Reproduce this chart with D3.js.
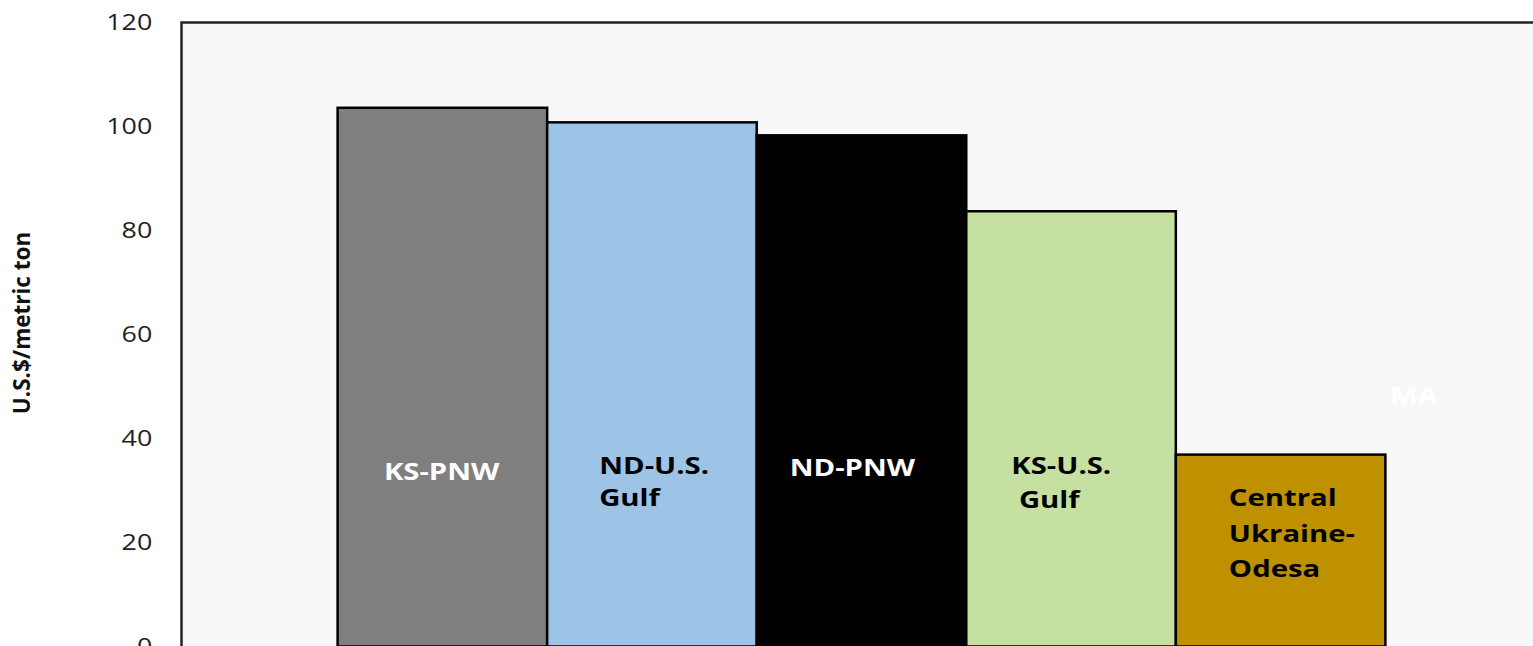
<!DOCTYPE html>
<html>
<head>
<meta charset="utf-8">
<script src="https://cdn.jsdelivr.net/npm/d3@7"></script>
<style>
  html, body { margin: 0; padding: 0; background: #ffffff; overflow: hidden; }
  text { font-family: "Open Sans", "DejaVu Sans", sans-serif; }
</style>
</head>
<body>
<div id="chart"></div>
<script>
// route categories and cost values (U.S.$/metric ton)
const categories = ["KS-PNW", "ND-U.S. Gulf", "ND-PNW", "KS-U.S. Gulf", "Central Ukraine-Odesa"];
const values = [103.6, 100.8, 98.3, 83.7, 36.9];
const barColors = ["#7f7f7f", "#9dc3e6", "#000000", "#c5e0a0", "#bf9000"];
const labelLines = [["KS-PNW"], ["ND-U.S.", "Gulf"], ["ND-PNW"], ["KS-U.S.", " Gulf"], ["Central", "Ukraine-", "Odesa"]];
const labelColors = ["#ffffff", "#000000", "#ffffff", "#000000", "#000000"];
const yTicks = [0, 20, 40, 60, 80, 100, 120];

const outerWidth = 1533, outerHeight = 646;
const margin = { top: 22.5, left: 181.5 };
const width = 1360;
const height = 624;
const stretch = 1.22; // reference text is drawn horizontally widened

const svg = d3.select("#chart").append("svg")
  .attr("width", outerWidth)
  .attr("height", outerHeight);

const g = svg.append("g").attr("transform", `translate(${margin.left},${margin.top})`);

const x = d3.scaleBand().domain(categories).range([0, width])
  .paddingInner(0).paddingOuter(0.745);
const y = d3.scaleLinear().domain([0, 120]).range([height, 0]);

// plot area
g.append("rect")
  .attr("width", width).attr("height", height)
  .attr("fill", "#f8f8f8");

// bars
g.selectAll(".bar")
  .data(values)
  .enter().append("rect")
  .attr("class", "bar")
  .attr("x", (d, i) => x(categories[i]))
  .attr("y", d => y(d))
  .attr("width", x.bandwidth())
  .attr("height", d => y(0) - y(d))
  .attr("fill", (d, i) => barColors[i])
  .attr("stroke", "#000")
  .attr("stroke-width", 2.5);

// plot border (top + left visible)
g.append("path")
  .attr("d", `M0,${height}V0H${width}`)
  .attr("fill", "none")
  .attr("stroke", "#222")
  .attr("stroke-width", 2.5);

// y axis tick labels
const yAxis = g.append("g")
  .call(d3.axisLeft(y).tickValues(yTicks).tickSize(0).tickPadding(24));
yAxis.select(".domain").remove();
yAxis.selectAll("text")
  .attr("font-family", "'Open Sans', sans-serif")
  .attr("font-size", "22px")
  .attr("fill", "#222")
  .attr("transform", `scale(${stretch},1)`);

// axis title
svg.append("text")
  .attr("transform", `translate(30, 323) rotate(-90)`)
  .attr("text-anchor", "middle")
  .attr("font-size", "22.5px")
  .attr("font-weight", "bold")
  .attr("fill", "#111")
  .text("U.S.$/metric ton");

// in-bar labels
const labelOffsets = [
  { dx: 104, y: 472, anchor: "middle", lh: 34 },
  { dx: 52, y: 466, anchor: "start", lh: 32 },
  { dx: 33, y: 468, anchor: "start", lh: 34 },
  { dx: 45, y: 466, anchor: "start", lh: 34 },
  { dx: 53, y: 498, anchor: "start", lh: 35.5 }
];
labelLines.forEach((lines, i) => {
  const o = labelOffsets[i];
  const lg = svg.append("g")
    .attr("transform", `translate(${margin.left + x(categories[i]) + o.dx},${o.y}) scale(${stretch},1)`);
  const t = lg.append("text")
    .attr("text-anchor", o.anchor)
    .attr("font-size", "24px")
    .attr("font-weight", "bold")
    .attr("fill", labelColors[i])
    .attr("xml:space", "preserve");
  lines.forEach((ln, k) => {
    t.append("tspan")
      .attr("x", 0)
      .attr("y", k * o.lh)
      .attr("dy", "0.35em")
      .text(ln);
  });
});

// faint white "MA" annotation
svg.append("g")
  .attr("transform", `translate(1414,396) scale(${stretch},1)`)
  .append("text")
  .attr("dy", "0.35em")
  .attr("text-anchor", "middle")
  .attr("font-size", "24px")
  .attr("font-weight", "bold")
  .attr("fill", "#ffffff")
  .text("MA");
</script>
</body>
</html>
